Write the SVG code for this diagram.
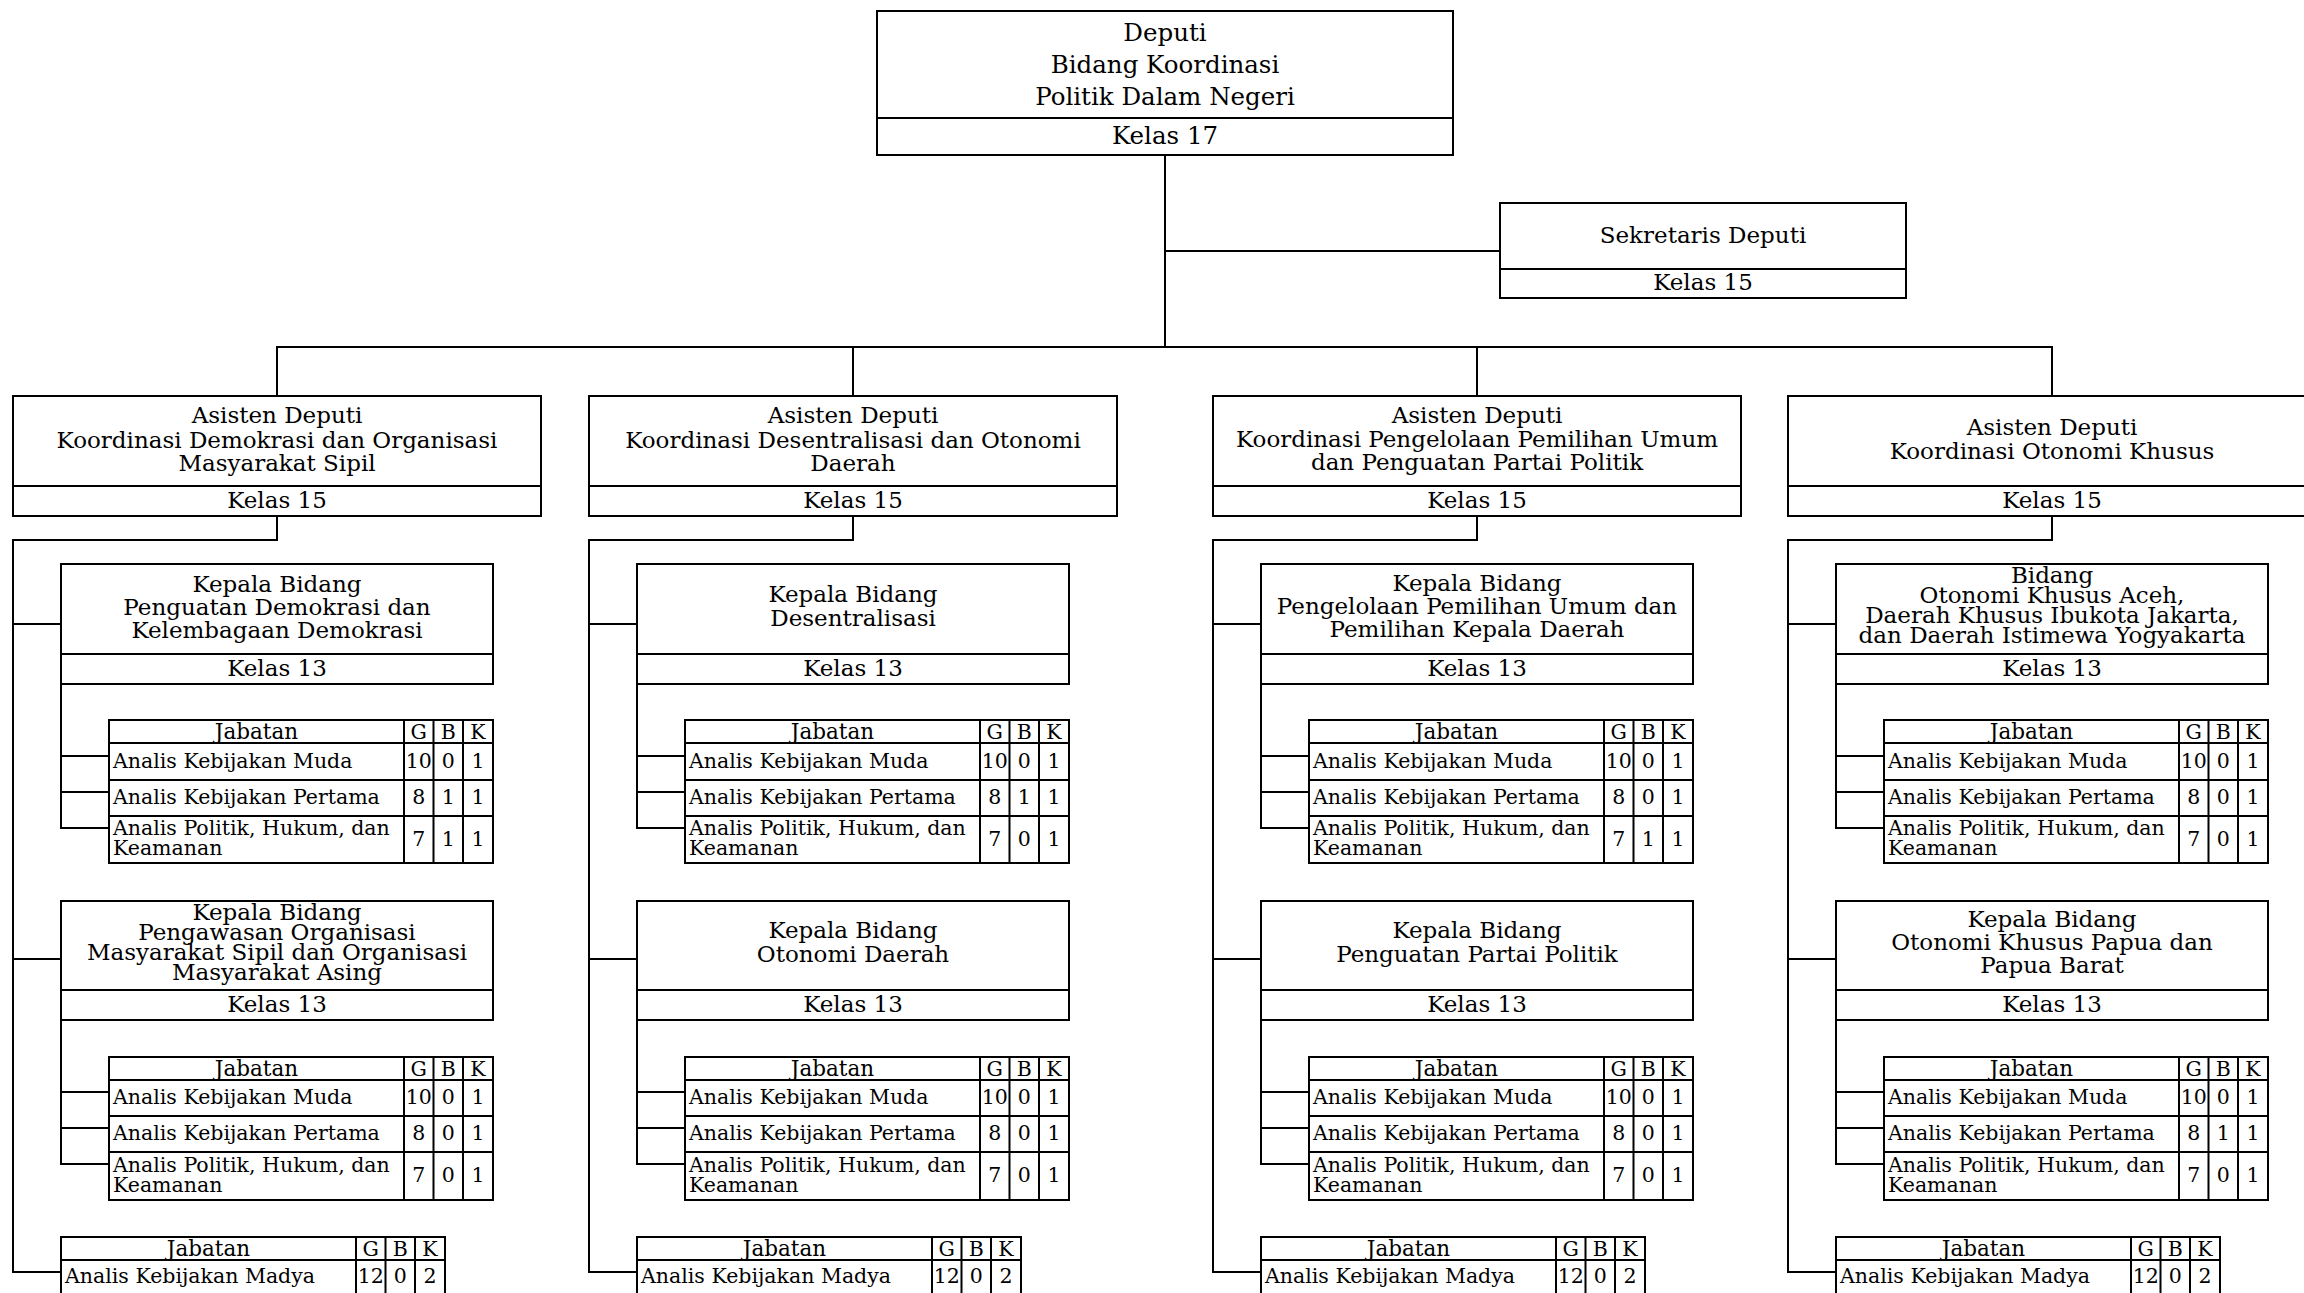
<svg xmlns="http://www.w3.org/2000/svg" width="2304" height="1293" viewBox="0 0 2304 1293">
<style>
.b{fill:#fff;stroke:#000;stroke-width:2}
.l{fill:none;stroke:#000;stroke-width:2}
.t{font-family:'DejaVu Serif',serif;font-size:23px;text-anchor:middle;fill:#000}
.d{font-size:24.5px}
.s{font-family:'DejaVu Serif',serif;font-size:20.5px;fill:#000}
.h{font-size:21.5px}
.c{text-anchor:middle}
</style>
<rect x="0" y="0" width="2304" height="1293" fill="#fff"/>
<g id="connectors" class="l">
<path d="M1165 155V347M1165 251H1500M277 396V347H2052V396M853 347V396M1477 347V396"/>
<path d="M277 516V540H13V1272H61M13 624H61M13 959H61M61 684V828H109M61 756H109M61 792H109M61 1020V1164H109M61 1092H109M61 1128H109"/>
<path d="M853 516V540H589V1272H637M589 624H637M589 959H637M637 684V828H685M637 756H685M637 792H685M637 1020V1164H685M637 1092H685M637 1128H685"/>
<path d="M1477 516V540H1213V1272H1261M1213 624H1261M1213 959H1261M1261 684V828H1309M1261 756H1309M1261 792H1309M1261 1020V1164H1309M1261 1092H1309M1261 1128H1309"/>
<path d="M2052 516V540H1788V1272H1836M1788 624H1836M1788 959H1836M1836 684V828H1884M1836 756H1884M1836 792H1884M1836 1020V1164H1884M1836 1092H1884M1836 1128H1884"/>
</g>
<g id="deputi">
<rect class="b" x="877" y="11" width="576" height="144"/>
<line class="l" x1="877" y1="118" x2="1453" y2="118"/>
<text class="t d" x="1165" y="41">Deputi</text>
<text class="t d" x="1165" y="73">Bidang Koordinasi</text>
<text class="t d" x="1165" y="105">Politik Dalam Negeri</text>
<text class="t d" x="1165" y="144">Kelas 17</text>
</g>
<g id="sekretaris">
<rect class="b" x="1500" y="203" width="406" height="95"/>
<line class="l" x1="1500" y1="269" x2="1906" y2="269"/>
<text class="t" x="1703" y="243">Sekretaris Deputi</text>
<text class="t" x="1703" y="290">Kelas 15</text>
</g>
<g id="asdep1">
<rect class="b" x="13" y="396" width="528" height="120"/>
<line class="l" x1="13" y1="486" x2="541" y2="486"/>
<text class="t" x="277" y="423">Asisten Deputi</text>
<text class="t" x="277" y="448">Koordinasi Demokrasi dan Organisasi</text>
<text class="t" x="277" y="471">Masyarakat Sipil</text>
<text class="t" x="277" y="508">Kelas 15</text>
</g>
<g id="asdep2">
<rect class="b" x="589" y="396" width="528" height="120"/>
<line class="l" x1="589" y1="486" x2="1117" y2="486"/>
<text class="t" x="853" y="423">Asisten Deputi</text>
<text class="t" x="853" y="448">Koordinasi Desentralisasi dan Otonomi</text>
<text class="t" x="853" y="471">Daerah</text>
<text class="t" x="853" y="508">Kelas 15</text>
</g>
<g id="asdep3">
<rect class="b" x="1213" y="396" width="528" height="120"/>
<line class="l" x1="1213" y1="486" x2="1741" y2="486"/>
<text class="t" x="1477" y="423">Asisten Deputi</text>
<text class="t" x="1477" y="447">Koordinasi Pengelolaan Pemilihan Umum</text>
<text class="t" x="1477" y="470">dan Penguatan Partai Politik</text>
<text class="t" x="1477" y="508">Kelas 15</text>
</g>
<g id="asdep4">
<rect class="b" x="1788" y="396" width="528" height="120"/>
<line class="l" x1="1788" y1="486" x2="2316" y2="486"/>
<text class="t" x="2052" y="435">Asisten Deputi</text>
<text class="t" x="2052" y="459">Koordinasi Otonomi Khusus</text>
<text class="t" x="2052" y="508">Kelas 15</text>
</g>
<g id="kabid1a">
<rect class="b" x="61" y="564" width="432" height="120"/>
<line class="l" x1="61" y1="654" x2="493" y2="654"/>
<text class="t" x="277" y="592">Kepala Bidang</text>
<text class="t" x="277" y="615">Penguatan Demokrasi dan</text>
<text class="t" x="277" y="638">Kelembagaan Demokrasi</text>
<text class="t" x="277" y="676">Kelas 13</text>
</g>
<g id="kabid1b">
<rect class="b" x="61" y="901" width="432" height="119"/>
<line class="l" x1="61" y1="990" x2="493" y2="990"/>
<text class="t" x="277" y="920">Kepala Bidang</text>
<text class="t" x="277" y="940">Pengawasan Organisasi</text>
<text class="t" x="277" y="960">Masyarakat Sipil dan Organisasi</text>
<text class="t" x="277" y="980">Masyarakat Asing</text>
<text class="t" x="277" y="1012">Kelas 13</text>
</g>
<g id="kabid2a">
<rect class="b" x="637" y="564" width="432" height="120"/>
<line class="l" x1="637" y1="654" x2="1069" y2="654"/>
<text class="t" x="853" y="602">Kepala Bidang</text>
<text class="t" x="853" y="626">Desentralisasi</text>
<text class="t" x="853" y="676">Kelas 13</text>
</g>
<g id="kabid2b">
<rect class="b" x="637" y="901" width="432" height="119"/>
<line class="l" x1="637" y1="990" x2="1069" y2="990"/>
<text class="t" x="853" y="938">Kepala Bidang</text>
<text class="t" x="853" y="962">Otonomi Daerah</text>
<text class="t" x="853" y="1012">Kelas 13</text>
</g>
<g id="kabid3a">
<rect class="b" x="1261" y="564" width="432" height="120"/>
<line class="l" x1="1261" y1="654" x2="1693" y2="654"/>
<text class="t" x="1477" y="591">Kepala Bidang</text>
<text class="t" x="1477" y="614">Pengelolaan Pemilihan Umum dan</text>
<text class="t" x="1477" y="637">Pemilihan Kepala Daerah</text>
<text class="t" x="1477" y="676">Kelas 13</text>
</g>
<g id="kabid3b">
<rect class="b" x="1261" y="901" width="432" height="119"/>
<line class="l" x1="1261" y1="990" x2="1693" y2="990"/>
<text class="t" x="1477" y="938">Kepala Bidang</text>
<text class="t" x="1477" y="962">Penguatan Partai Politik</text>
<text class="t" x="1477" y="1012">Kelas 13</text>
</g>
<g id="kabid4a">
<rect class="b" x="1836" y="564" width="432" height="120"/>
<line class="l" x1="1836" y1="654" x2="2268" y2="654"/>
<text class="t" x="2052" y="583">Bidang</text>
<text class="t" x="2052" y="603">Otonomi Khusus Aceh,</text>
<text class="t" x="2052" y="623">Daerah Khusus Ibukota Jakarta,</text>
<text class="t" x="2052" y="643">dan Daerah Istimewa Yogyakarta</text>
<text class="t" x="2052" y="676">Kelas 13</text>
</g>
<g id="kabid4b">
<rect class="b" x="1836" y="901" width="432" height="119"/>
<line class="l" x1="1836" y1="990" x2="2268" y2="990"/>
<text class="t" x="2052" y="927">Kepala Bidang</text>
<text class="t" x="2052" y="950">Otonomi Khusus Papua dan</text>
<text class="t" x="2052" y="973">Papua Barat</text>
<text class="t" x="2052" y="1012">Kelas 13</text>
</g>

<g id="tabel1a" transform="translate(109,720)">
<rect class="b" x="0" y="0" width="384" height="143"/>
<path class="l" d="M0 23H384M0 60H384M0 96H384M295 0V143M324.5 0V143M354 0V143"/>
<text class="s h c" x="147.5" y="18.5">Jabatan</text><text class="s c" x="309.75" y="18.5">G</text><text class="s c" x="339.25" y="18.5">B</text><text class="s c" x="369" y="18.5">K</text>
<text class="s" x="4" y="48">Analis Kebijakan Muda</text><text class="s c" x="309.75" y="48">10</text><text class="s c" x="339.25" y="48">0</text><text class="s c" x="369" y="48">1</text>
<text class="s" x="4" y="84">Analis Kebijakan Pertama</text><text class="s c" x="309.75" y="84">8</text><text class="s c" x="339.25" y="84">1</text><text class="s c" x="369" y="84">1</text>
<text class="s" x="4" y="115">Analis Politik, Hukum, dan</text><text class="s" x="4" y="135">Keamanan</text><text class="s c" x="309.75" y="126">7</text><text class="s c" x="339.25" y="126">1</text><text class="s c" x="369" y="126">1</text>
</g>
<g id="tabel1b" transform="translate(109,1057)">
<rect class="b" x="0" y="0" width="384" height="143"/>
<path class="l" d="M0 23H384M0 59H384M0 95H384M295 0V143M324.5 0V143M354 0V143"/>
<text class="s h c" x="147.5" y="18.5">Jabatan</text><text class="s c" x="309.75" y="18.5">G</text><text class="s c" x="339.25" y="18.5">B</text><text class="s c" x="369" y="18.5">K</text>
<text class="s" x="4" y="47">Analis Kebijakan Muda</text><text class="s c" x="309.75" y="47">10</text><text class="s c" x="339.25" y="47">0</text><text class="s c" x="369" y="47">1</text>
<text class="s" x="4" y="83">Analis Kebijakan Pertama</text><text class="s c" x="309.75" y="83">8</text><text class="s c" x="339.25" y="83">0</text><text class="s c" x="369" y="83">1</text>
<text class="s" x="4" y="115">Analis Politik, Hukum, dan</text><text class="s" x="4" y="135">Keamanan</text><text class="s c" x="309.75" y="125">7</text><text class="s c" x="339.25" y="125">0</text><text class="s c" x="369" y="125">1</text>
</g>
<g id="tabel1c" transform="translate(61,1237)">
<rect class="b" x="0" y="0" width="384" height="70"/>
<path class="l" d="M0 23H384M295 0V70M324.5 0V70M354 0V70"/>
<text class="s h c" x="147.5" y="18.5">Jabatan</text><text class="s c" x="309.75" y="18.5">G</text><text class="s c" x="339.25" y="18.5">B</text><text class="s c" x="369" y="18.5">K</text>
<text class="s" x="4" y="46">Analis Kebijakan Madya</text><text class="s c" x="309.75" y="46">12</text><text class="s c" x="339.25" y="46">0</text><text class="s c" x="369" y="46">2</text>
</g>

<g id="tabel2a" transform="translate(685,720)">
<rect class="b" x="0" y="0" width="384" height="143"/>
<path class="l" d="M0 23H384M0 60H384M0 96H384M295 0V143M324.5 0V143M354 0V143"/>
<text class="s h c" x="147.5" y="18.5">Jabatan</text><text class="s c" x="309.75" y="18.5">G</text><text class="s c" x="339.25" y="18.5">B</text><text class="s c" x="369" y="18.5">K</text>
<text class="s" x="4" y="48">Analis Kebijakan Muda</text><text class="s c" x="309.75" y="48">10</text><text class="s c" x="339.25" y="48">0</text><text class="s c" x="369" y="48">1</text>
<text class="s" x="4" y="84">Analis Kebijakan Pertama</text><text class="s c" x="309.75" y="84">8</text><text class="s c" x="339.25" y="84">1</text><text class="s c" x="369" y="84">1</text>
<text class="s" x="4" y="115">Analis Politik, Hukum, dan</text><text class="s" x="4" y="135">Keamanan</text><text class="s c" x="309.75" y="126">7</text><text class="s c" x="339.25" y="126">0</text><text class="s c" x="369" y="126">1</text>
</g>
<g id="tabel2b" transform="translate(685,1057)">
<rect class="b" x="0" y="0" width="384" height="143"/>
<path class="l" d="M0 23H384M0 59H384M0 95H384M295 0V143M324.5 0V143M354 0V143"/>
<text class="s h c" x="147.5" y="18.5">Jabatan</text><text class="s c" x="309.75" y="18.5">G</text><text class="s c" x="339.25" y="18.5">B</text><text class="s c" x="369" y="18.5">K</text>
<text class="s" x="4" y="47">Analis Kebijakan Muda</text><text class="s c" x="309.75" y="47">10</text><text class="s c" x="339.25" y="47">0</text><text class="s c" x="369" y="47">1</text>
<text class="s" x="4" y="83">Analis Kebijakan Pertama</text><text class="s c" x="309.75" y="83">8</text><text class="s c" x="339.25" y="83">0</text><text class="s c" x="369" y="83">1</text>
<text class="s" x="4" y="115">Analis Politik, Hukum, dan</text><text class="s" x="4" y="135">Keamanan</text><text class="s c" x="309.75" y="125">7</text><text class="s c" x="339.25" y="125">0</text><text class="s c" x="369" y="125">1</text>
</g>
<g id="tabel2c" transform="translate(637,1237)">
<rect class="b" x="0" y="0" width="384" height="70"/>
<path class="l" d="M0 23H384M295 0V70M324.5 0V70M354 0V70"/>
<text class="s h c" x="147.5" y="18.5">Jabatan</text><text class="s c" x="309.75" y="18.5">G</text><text class="s c" x="339.25" y="18.5">B</text><text class="s c" x="369" y="18.5">K</text>
<text class="s" x="4" y="46">Analis Kebijakan Madya</text><text class="s c" x="309.75" y="46">12</text><text class="s c" x="339.25" y="46">0</text><text class="s c" x="369" y="46">2</text>
</g>

<g id="tabel3a" transform="translate(1309,720)">
<rect class="b" x="0" y="0" width="384" height="143"/>
<path class="l" d="M0 23H384M0 60H384M0 96H384M295 0V143M324.5 0V143M354 0V143"/>
<text class="s h c" x="147.5" y="18.5">Jabatan</text><text class="s c" x="309.75" y="18.5">G</text><text class="s c" x="339.25" y="18.5">B</text><text class="s c" x="369" y="18.5">K</text>
<text class="s" x="4" y="48">Analis Kebijakan Muda</text><text class="s c" x="309.75" y="48">10</text><text class="s c" x="339.25" y="48">0</text><text class="s c" x="369" y="48">1</text>
<text class="s" x="4" y="84">Analis Kebijakan Pertama</text><text class="s c" x="309.75" y="84">8</text><text class="s c" x="339.25" y="84">0</text><text class="s c" x="369" y="84">1</text>
<text class="s" x="4" y="115">Analis Politik, Hukum, dan</text><text class="s" x="4" y="135">Keamanan</text><text class="s c" x="309.75" y="126">7</text><text class="s c" x="339.25" y="126">1</text><text class="s c" x="369" y="126">1</text>
</g>
<g id="tabel3b" transform="translate(1309,1057)">
<rect class="b" x="0" y="0" width="384" height="143"/>
<path class="l" d="M0 23H384M0 59H384M0 95H384M295 0V143M324.5 0V143M354 0V143"/>
<text class="s h c" x="147.5" y="18.5">Jabatan</text><text class="s c" x="309.75" y="18.5">G</text><text class="s c" x="339.25" y="18.5">B</text><text class="s c" x="369" y="18.5">K</text>
<text class="s" x="4" y="47">Analis Kebijakan Muda</text><text class="s c" x="309.75" y="47">10</text><text class="s c" x="339.25" y="47">0</text><text class="s c" x="369" y="47">1</text>
<text class="s" x="4" y="83">Analis Kebijakan Pertama</text><text class="s c" x="309.75" y="83">8</text><text class="s c" x="339.25" y="83">0</text><text class="s c" x="369" y="83">1</text>
<text class="s" x="4" y="115">Analis Politik, Hukum, dan</text><text class="s" x="4" y="135">Keamanan</text><text class="s c" x="309.75" y="125">7</text><text class="s c" x="339.25" y="125">0</text><text class="s c" x="369" y="125">1</text>
</g>
<g id="tabel3c" transform="translate(1261,1237)">
<rect class="b" x="0" y="0" width="384" height="70"/>
<path class="l" d="M0 23H384M295 0V70M324.5 0V70M354 0V70"/>
<text class="s h c" x="147.5" y="18.5">Jabatan</text><text class="s c" x="309.75" y="18.5">G</text><text class="s c" x="339.25" y="18.5">B</text><text class="s c" x="369" y="18.5">K</text>
<text class="s" x="4" y="46">Analis Kebijakan Madya</text><text class="s c" x="309.75" y="46">12</text><text class="s c" x="339.25" y="46">0</text><text class="s c" x="369" y="46">2</text>
</g>

<g id="tabel4a" transform="translate(1884,720)">
<rect class="b" x="0" y="0" width="384" height="143"/>
<path class="l" d="M0 23H384M0 60H384M0 96H384M295 0V143M324.5 0V143M354 0V143"/>
<text class="s h c" x="147.5" y="18.5">Jabatan</text><text class="s c" x="309.75" y="18.5">G</text><text class="s c" x="339.25" y="18.5">B</text><text class="s c" x="369" y="18.5">K</text>
<text class="s" x="4" y="48">Analis Kebijakan Muda</text><text class="s c" x="309.75" y="48">10</text><text class="s c" x="339.25" y="48">0</text><text class="s c" x="369" y="48">1</text>
<text class="s" x="4" y="84">Analis Kebijakan Pertama</text><text class="s c" x="309.75" y="84">8</text><text class="s c" x="339.25" y="84">0</text><text class="s c" x="369" y="84">1</text>
<text class="s" x="4" y="115">Analis Politik, Hukum, dan</text><text class="s" x="4" y="135">Keamanan</text><text class="s c" x="309.75" y="126">7</text><text class="s c" x="339.25" y="126">0</text><text class="s c" x="369" y="126">1</text>
</g>
<g id="tabel4b" transform="translate(1884,1057)">
<rect class="b" x="0" y="0" width="384" height="143"/>
<path class="l" d="M0 23H384M0 59H384M0 95H384M295 0V143M324.5 0V143M354 0V143"/>
<text class="s h c" x="147.5" y="18.5">Jabatan</text><text class="s c" x="309.75" y="18.5">G</text><text class="s c" x="339.25" y="18.5">B</text><text class="s c" x="369" y="18.5">K</text>
<text class="s" x="4" y="47">Analis Kebijakan Muda</text><text class="s c" x="309.75" y="47">10</text><text class="s c" x="339.25" y="47">0</text><text class="s c" x="369" y="47">1</text>
<text class="s" x="4" y="83">Analis Kebijakan Pertama</text><text class="s c" x="309.75" y="83">8</text><text class="s c" x="339.25" y="83">1</text><text class="s c" x="369" y="83">1</text>
<text class="s" x="4" y="115">Analis Politik, Hukum, dan</text><text class="s" x="4" y="135">Keamanan</text><text class="s c" x="309.75" y="125">7</text><text class="s c" x="339.25" y="125">0</text><text class="s c" x="369" y="125">1</text>
</g>
<g id="tabel4c" transform="translate(1836,1237)">
<rect class="b" x="0" y="0" width="384" height="70"/>
<path class="l" d="M0 23H384M295 0V70M324.5 0V70M354 0V70"/>
<text class="s h c" x="147.5" y="18.5">Jabatan</text><text class="s c" x="309.75" y="18.5">G</text><text class="s c" x="339.25" y="18.5">B</text><text class="s c" x="369" y="18.5">K</text>
<text class="s" x="4" y="46">Analis Kebijakan Madya</text><text class="s c" x="309.75" y="46">12</text><text class="s c" x="339.25" y="46">0</text><text class="s c" x="369" y="46">2</text>
</g>
</svg>
